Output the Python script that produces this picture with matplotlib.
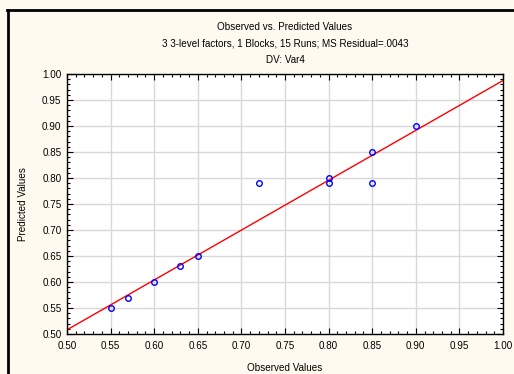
import numpy as np
from matplotlib import pyplot as plt
from matplotlib.ticker import MultipleLocator, FormatStrFormatter
from matplotlib.lines import Line2D

observed = [0.55, 0.57, 0.60, 0.63, 0.65, 0.72, 0.80, 0.80, 0.85, 0.85, 0.90]
predicted = [0.55, 0.57, 0.60, 0.63, 0.65, 0.79, 0.80, 0.79, 0.85, 0.79, 0.90]
fit_intercept = 0.508
fit_slope = 0.959

plt.rcParams['font.family'] = ['Liberation Sans', 'DejaVu Sans']
bg = '#fffaf0'
fs = 7.1

fig = plt.figure(figsize=(5.14, 3.74), dpi=100, facecolor=bg)
ax = fig.add_axes([67 / 514, 1 - 334 / 374, 436 / 514, 260 / 374])
ax.set_facecolor('white')

ax.set_xlim(0.5, 1.0)
ax.set_ylim(0.5, 1.0)
ax.xaxis.set_major_locator(MultipleLocator(0.05))
ax.yaxis.set_major_locator(MultipleLocator(0.05))
ax.xaxis.set_minor_locator(MultipleLocator(0.01))
ax.yaxis.set_minor_locator(MultipleLocator(0.01))
ax.xaxis.set_major_formatter(FormatStrFormatter('%.2f'))
ax.yaxis.set_major_formatter(FormatStrFormatter('%.2f'))
ax.tick_params(which='both', direction='in', top=True, right=True,
               labelsize=fs, width=0.8)
ax.tick_params(axis='x', pad=5)
ax.tick_params(axis='y', pad=4)
ax.tick_params(which='major', length=4)
ax.tick_params(which='minor', length=2)
ax.grid(True, which='major', color='#d8d8d8', linewidth=1, linestyle='-')
ax.set_axisbelow(True)
for s in ax.spines.values():
    s.set_linewidth(1)

xs = np.array([0.5, 1.0])
ax.plot(xs, fit_intercept + fit_slope * (xs - 0.5), color='red', linewidth=1)
ax.plot(observed, predicted, 'o', markerfacecolor='none', markeredgecolor='blue',
        markersize=4, markeredgewidth=1)

ax.set_xlabel('Observed Values', fontsize=fs, labelpad=9)
ax.set_ylabel('Predicted Values', fontsize=fs, labelpad=10)

fig.text(285 / 514, 1 - 27 / 374, 'Observed vs. Predicted Values', ha='center', va='center', fontsize=fs)
fig.text(285 / 514, 1 - 44 / 374, '3 3-level factors, 1 Blocks, 15 Runs; MS Residual=.0043',
         ha='center', va='center', fontsize=fs)
fig.text(285 / 514, 1 - 60 / 374, 'DV: Var4', ha='center', va='center', fontsize=fs)

# black frame on left and top
fig.add_artist(Line2D([8 / 514, 8 / 514], [0, 1 - 10 / 374], color='black', linewidth=2,
                      transform=fig.transFigure))
fig.add_artist(Line2D([7 / 514, 1], [1 - 10 / 374, 1 - 10 / 374], color='black', linewidth=2,
                      transform=fig.transFigure))

fig.savefig('out.png', dpi=100, facecolor=bg)
